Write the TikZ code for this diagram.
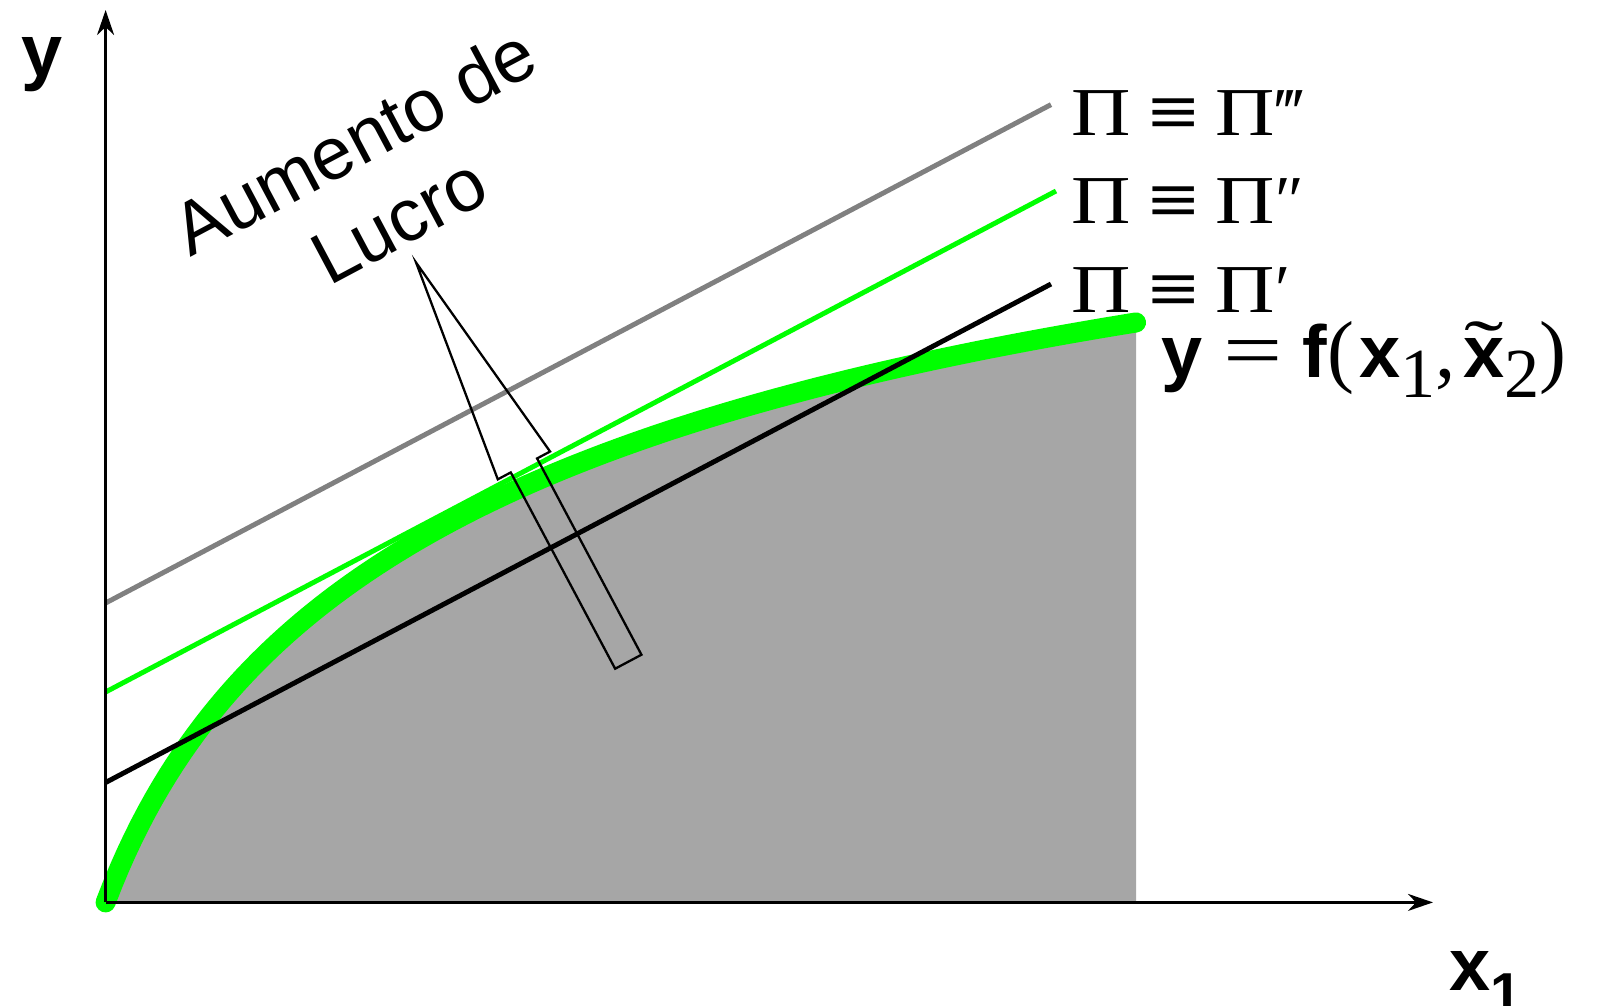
\documentclass[tikz,border=0pt]{standalone}
\usepackage{fontspec}
\setmainfont{Liberation Serif}
\setsansfont{Liberation Sans}
\usepackage{graphicx}
\usepackage{tikz}
\usetikzlibrary{arrows.meta}
\definecolor{lgreen}{HTML}{00FF00}
\definecolor{lgray}{HTML}{808080}
\definecolor{area}{HTML}{A6A6A6}
\newcommand{\bsf}[1]{{\sffamily\bfseries #1}}
\newcommand{\srf}[1]{{\fontsize{23}{25}\selectfont\rmfamily\mdseries #1}}
\newcommand{\rsub}[1]{\raisebox{-0.28em}{\fontsize{20}{20}\selectfont\rmfamily\mdseries #1}}
\newcommand{\xtil}{\ooalign{\bsf{x}\cr\hidewidth\raisebox{0.08em}{\scalebox{1.6}[1]{\rmfamily\mdseries\char"02DC}}\hidewidth\cr}}
\newcommand{\PI}{\scalebox{1.2}[1]{Π}}
\newcommand{\EQV}{\scalebox{1.3}[1]{\bfseries ≡}}
\newcommand{\gap}{\hspace{0.17cm}}

\begin{document}
\begin{tikzpicture}[x=0.01cm,y=-0.01cm,
  ax/.style={line width=0.75pt,-{Stealth[length=0.25cm,width=0.17cm,inset=0.08cm]}},
  iso/.style={line width=1.4pt},
  txt/.style={inner sep=0pt,anchor=base west,font=\fontsize{21}{25}\selectfont\sffamily\bfseries},
  pilab/.style={inner sep=0pt,anchor=base west,font=\fontsize{19.5}{23}\selectfont\rmfamily},
  rot/.style={rotate=28,anchor=base,inner sep=0pt,font=\fontsize{21}{25}\selectfont\sffamily},
  declare function={prod(\q)=273.3*ln(1+\q/100)-0.0804*\q;}]
  \useasboundingbox (0,0) rectangle (1608,1005);
  \coordinate (O) at (105.6,902.4);
  \coordinate (yend) at (105.6,10);
  \coordinate (xend) at (1433,902.4);
  % area under f
  \fill[area] (O) -- plot[domain=0:1030.4,samples=150] ({105.6+\x},{902.4-prod(\x)}) -- (1136,902.4) -- cycle;
  \draw[lgreen,line width=5.7pt,line cap=round]
     plot[domain=0:1030.4,samples=150] ({105.6+\x},{902.4-prod(\x)});
  % iso-profit lines
  \draw[iso,lgray] (105.6,603) -- (1051,104.6);
  \draw[iso,lgreen] (105.6,692) -- (1056,191);
  \draw[iso,black] (105.6,782.5) -- (1051,284);
  \node[pilab] (pi3) at (1071,135) {\PI\gap\EQV\gap\PI‴};
  \node[pilab] (pi2) at (1071,223) {\PI\gap\EQV\gap\PI″};
  \node[pilab] (pi1) at (1071,312) {\PI\gap\EQV\gap\PI′};
  \node[txt] (fx) at (1161,377)
     {y\srf{{} \scalebox{1.3}[1]{=} }f\srf{(}\hspace{0.05cm}x\rsub{1}\srf{,}\hspace{0.08cm}\xtil\rsub{2}\srf{)}};
  % axes
  \draw[ax] (O) -- (yend);
  \draw[ax] (O) -- (xend);
  \node[txt] (ylab) at (21,76) {y};
  \node[txt] (xlab) at (1449,990) {x\raisebox{-0.3em}{\fontsize{16}{16}\selectfont 1}};
  % profit increase
  \begin{scope}[shift={(628.3,661.7)},rotate=28]
    \draw[line width=0.65pt] (0,-452) -- (29.6,-222.3) -- (14.9,-222.3) -- (14.9,0)
       -- (-14.9,0) -- (-14.9,-222.3) -- (-29.6,-222.3) -- cycle;
  \end{scope}
  \node[rot] (aum) at (366.5,164) {Aumento de};
  \node[rot] (luc) at (411,243) {Lucro};
\end{tikzpicture}
\end{document}
